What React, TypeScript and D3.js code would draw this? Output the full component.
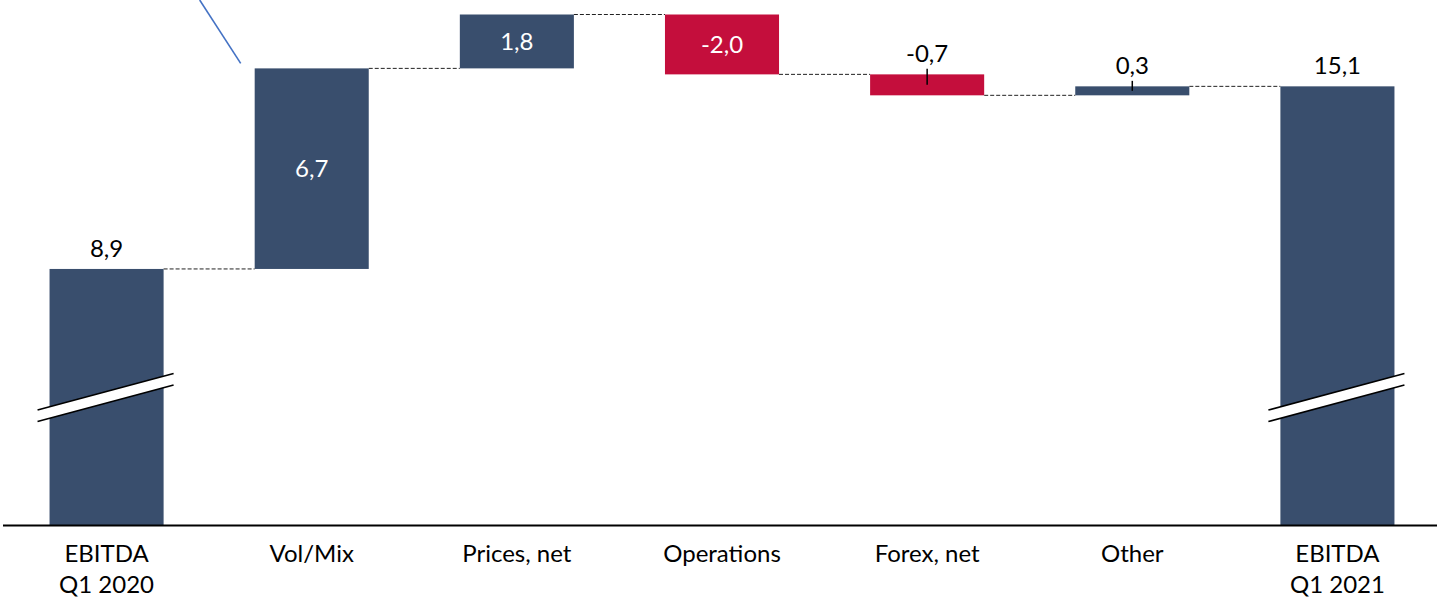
import React from "react";
import * as d3 from "d3";

// ---- data ----
const categories: string[][] = [
  ["EBITDA", "Q1 2020"],
  ["Vol/Mix"],
  ["Prices, net"],
  ["Operations"],
  ["Forex, net"],
  ["Other"],
  ["EBITDA", "Q1 2021"],
];
const startTotal = 8.9;
const deltas = [6.7, 1.8, -2.0, -0.7, 0.3];
const endTotalLabel = 15.1;

const NAVY = "#394E6D";
const RED = "#C40E3C";
const W = 1437;
const H = 597;
const FONT = "Lato, 'Open Sans', sans-serif";
const FS = 24;

const fmt = (v: number) => v.toFixed(1).replace(".", ",");

type Bar = { i: number; y0: number; y1: number; color: string; label: string; total: boolean; inside: boolean };

export default function App() {
  const x = d3
    .scaleBand<number>()
    .domain(d3.range(categories.length))
    .range([4, 1440])
    .paddingInner(0.444)
    .paddingOuter(0.222);
  const axisMin = 0.33;
  const y = d3.scaleLinear().domain([axisMin, 17.4]).range([525.5, 14.5]);

  const bars: Bar[] = [];
  bars.push({ i: 0, y0: axisMin, y1: startTotal, color: NAVY, label: fmt(startTotal), total: true, inside: false });
  let run = startTotal;
  deltas.forEach((d, k) => {
    const a = run;
    run = run + d;
    const hpx = Math.abs(y(a) - y(run));
    bars.push({
      i: k + 1,
      y0: a,
      y1: run,
      color: d >= 0 ? NAVY : RED,
      label: fmt(d),
      total: false,
      inside: hpx > 40,
    });
  });
  bars.push({ i: categories.length - 1, y0: axisMin, y1: run, color: NAVY, label: fmt(endTotalLabel), total: true, inside: false });

  const bw = x.bandwidth();
  const breakValue = 4.62;
  const breakIdx = [0, categories.length - 1];

  return (
    <svg width={W} height={H} style={{ position: "absolute", left: 0, top: 0, background: "#fff" }} fontFamily={FONT}>
      {/* connectors */}
      {bars.slice(0, -1).map((b, k) => {
        const level = b.y1;
        const x1 = (x(b.i) as number) + bw;
        const x2 = x(bars[k + 1].i) as number;
        return (
          <line key={"c" + k} x1={x1} x2={x2} y1={y(level)} y2={y(level)} stroke="#222" strokeWidth={1} strokeDasharray="4,2" />
        );
      })}
      {/* bars */}
      {bars.map((b) => {
        const top = Math.min(y(b.y0), y(b.y1));
        const bot = Math.max(y(b.y0), y(b.y1));
        return <rect key={"b" + b.i} x={x(b.i)} y={top} width={bw} height={bot - top} fill={b.color} />;
      })}
      {/* break marks */}
      {breakIdx.map((i) => {
        const xl = (x(i) as number) - 12;
        const xr = (x(i) as number) + bw + 10;
        const yc = y(breakValue);
        const yl1 = yc + 13;
        const yr1 = yl1 - 36.5;
        const gap = 11.5;
        return (
          <g key={"br" + i}>
            <polygon points={`${xl},${yl1} ${xr},${yr1} ${xr},${yr1 + gap} ${xl},${yl1 + gap}`} fill="#fff" />
            <line x1={xl} y1={yl1} x2={xr} y2={yr1} stroke="#000" strokeWidth={1.6} />
            <line x1={xl} y1={yl1 + gap} x2={xr} y2={yr1 + gap} stroke="#000" strokeWidth={1.6} />
          </g>
        );
      })}
      {/* value labels */}
      {bars.map((b) => {
        const cx = (x(b.i) as number) + bw / 2;
        const top = Math.min(y(b.y0), y(b.y1));
        const bot = Math.max(y(b.y0), y(b.y1));
        if (b.inside) {
          return (
            <text key={"l" + b.i} x={cx} y={(top + bot) / 2 + 8.6} textAnchor="middle" fontSize={FS} fill="#fff">
              {b.label}
            </text>
          );
        }
        return (
          <g key={"l" + b.i}>
            <text x={cx} y={top - 12} textAnchor="middle" fontSize={FS} fill="#000">
              {b.label}
            </text>
            {!b.total && <line x1={cx} x2={cx} y1={top - 5.5} y2={(top + bot) / 2} stroke="#000" strokeWidth={1.5} />}
          </g>
        );
      })}
      {/* axis */}
      <line x1={3} x2={W} y1={y(axisMin)} y2={y(axisMin)} stroke="#000" strokeWidth={2} />
      {categories.map((lines, i) => (
        <text key={"t" + i} textAnchor="middle" fontSize={FS} fill="#000">
          {lines.map((ln, j) => (
            <tspan key={j} x={(x(i) as number) + bw / 2} y={y(axisMin) + 36 + j * 31.5}>
              {ln}
            </tspan>
          ))}
        </text>
      ))}
      {/* annotation stroke */}
      <line
        x1={(x(1) as number) - 55}
        y1={0}
        x2={(x(1) as number) - 14}
        y2={y(bars[1].y1) - 5}
        stroke="#4472C4"
        strokeWidth={1.6}
      />
    </svg>
  );
}
